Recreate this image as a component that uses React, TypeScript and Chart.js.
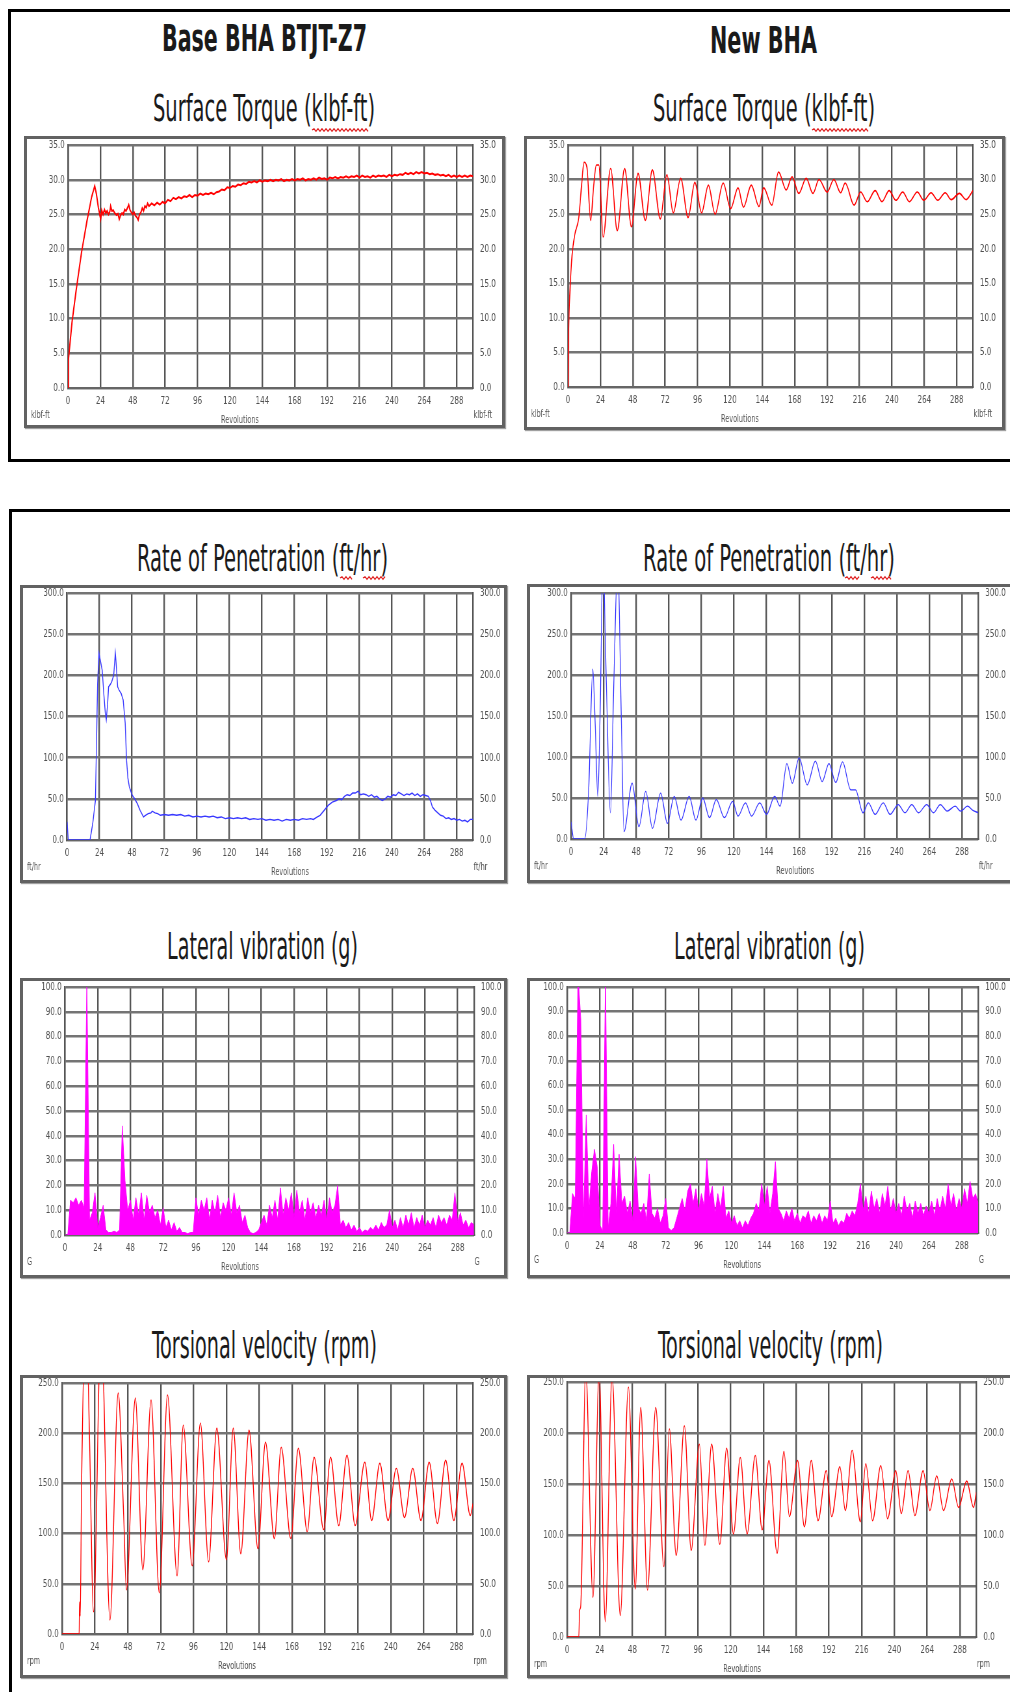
import React, { useEffect, useRef } from 'react';
import { Chart, registerables } from 'chart.js';

Chart.register(...registerables);

// ---------------- data (revolutions, value) ----------------
const TORQUE_BASE: [number, number][] = [
  [0, 0], [0.3, 4], [3, 9.5], [6, 14], [10, 19.5], [14, 24], [17.5, 27.5], [19.8, 29.1], [21, 28], [22.5, 26],
  [24.2, 24.3], [25, 25.6], [26, 25.0], [27, 25.7], [28, 25.2], [29, 25.5], [30, 25.0], [31, 25.4], [31.6, 26.2],
  [32.5, 25.5], [33.5, 25.6], [34.6, 25.2], [36, 24.9], [37, 25.1], [38, 24.3], [39, 24.9], [40, 25.2], [41, 25.0],
  [42, 25.7], [43, 25.5], [44, 25.9], [45, 26.4], [46, 25.6], [47, 25.3], [48, 25.0], [49, 25.3], [50, 24.8],
  [51, 24.6], [52, 24.2], [53, 25.0], [54, 25.3], [55, 25.9], [56, 25.5], [57, 26.2], [58, 26.0], [59, 26.6],
  [60, 26.2], [62, 26.6], [64, 26.3], [66, 26.7], [68, 26.4], [70, 26.8], [72, 26.6], [74, 27.1], [76, 26.9],
  [78, 27.4], [80, 27.2], [82, 27.5], [84, 27.3], [86, 27.6], [88, 27.5], [90, 27.8], [92, 27.5], [94, 27.8],
  [96, 27.7], [98, 28.0], [100, 27.8], [102, 28.0], [104, 27.9], [106, 28.1], [108, 27.9], [110, 28.2], [112, 28.3],
  [114, 28.6], [116, 28.5], [118, 28.9], [120, 28.8], [122, 29.1], [124, 29.0], [126, 29.3], [128, 29.2], [130, 29.5],
  [132, 29.4], [134, 29.7], [136, 29.6], [138, 29.8], [140, 29.6], [142, 29.9], [144, 29.7], [146, 29.9], [148, 29.8],
  [150, 30.0], [152, 29.8], [154, 30.0], [156, 29.9], [158, 30.1], [160, 29.8], [162, 30.0], [164, 29.9], [166, 30.1],
  [168, 29.9], [170, 30.1], [172, 30.0], [174, 30.2], [176, 29.9], [178, 30.1], [180, 30.0], [182, 30.2], [184, 30.0],
  [186, 30.3], [188, 30.1], [190, 30.2], [192, 30.0], [194, 30.3], [196, 30.2], [198, 30.4], [200, 30.2], [202, 30.4],
  [204, 30.3], [206, 30.5], [208, 30.3], [210, 30.5], [212, 30.4], [214, 30.6], [216, 30.3], [218, 30.6], [220, 30.4],
  [222, 30.5], [224, 30.3], [226, 30.6], [228, 30.4], [230, 30.6], [232, 30.5], [234, 30.6], [236, 30.4], [238, 30.7],
  [240, 30.5], [242, 30.7], [244, 30.6], [246, 30.8], [248, 30.7], [250, 31.0], [252, 30.8], [254, 31.0], [256, 30.8],
  [258, 31.1], [260, 30.9], [262, 31.1], [264, 30.9], [266, 31.0], [268, 30.8], [270, 30.9], [272, 30.7], [274, 30.8],
  [276, 30.6], [278, 30.7], [280, 30.5], [282, 30.7], [284, 30.4], [286, 30.6], [288, 30.4], [290, 30.6], [292, 30.4],
  [294, 30.6], [296, 30.4], [298, 30.6], [300, 30.5],
];

const TORQUE_NEW: [number, number][] = [
  [0, 0], [0.5, 8], [1.5, 14], [3, 19], [5, 22], [8, 24.5], [10, 29], [11.9, 32.5], [14, 31.8], [16.8, 24.1],
  [19, 29], [21, 32.1], [22.9, 32.1], [26, 21.7], [31.6, 31.6], [36.5, 22.6], [42, 31.6], [47, 23.2], [51.9, 30.9],
  [57.3, 24.1], [62.5, 31.4], [68.4, 24.3], [73.3, 30.7], [78, 25.2], [83.5, 30.2], [89, 24.5], [94, 29.6], [99, 25.2],
  [104, 29.2], [109, 25.0], [115, 29.5], [120.5, 25.8], [126, 28.8], [130, 26.0], [135.8, 29.2], [141.5, 26.1],
  [145, 28.8], [151, 26.3], [156, 31.1], [161.7, 28.5], [166, 30.4], [171, 28.0], [176.5, 30.2], [181.5, 28.0],
  [186, 30.0], [192, 28.2], [197, 30.0], [202, 28.1], [205.4, 29.5], [212, 26.3], [216.8, 28.2], [221.7, 26.8],
  [227.6, 28.4], [232.6, 26.8], [238, 28.4], [243, 27.0], [248, 28.2], [253, 26.8], [258.8, 28.2], [263.7, 27.0],
  [269, 28.1], [274, 27.0], [279.5, 28.1], [284, 27.1], [290, 28.0], [295, 27.1], [300, 28.4],
];

const ROP_BASE: [number, number][] = [
  [0, 22], [1, 0], [17, 0], [19, 20], [21, 48], [22.6, 190], [23.6, 227], [25, 215], [26, 206], [27.3, 175],
  [28.3, 154], [29, 146], [30, 165], [30.7, 186], [32, 189], [33, 192], [34.5, 200], [35.7, 227], [36.5, 210],
  [37.4, 186], [38.5, 182], [40, 178], [41.5, 170], [43, 142], [44, 97], [45, 75], [46, 65], [47, 60], [48, 55],
  [50, 50], [52, 44], [54, 36], [56.5, 28], [58, 30], [60, 32], [62, 33], [63, 35], [65, 33], [67, 32], [69, 30],
  [72, 31], [75, 30], [78, 31], [81, 30], [84, 31], [87, 29], [90, 30], [93, 28], [96, 29], [99, 28], [102, 29],
  [105, 28], [108, 29], [111, 27], [114, 28], [117, 26], [120, 27], [123, 26], [126, 27], [129, 26], [132, 27],
  [135, 25], [138, 26], [141, 25], [144, 26], [147, 24], [150, 25], [153, 24], [156, 25], [159, 23], [162, 25],
  [165, 24], [168, 25], [171, 24], [174, 26], [177, 25], [180, 26], [182, 25], [185, 28], [187, 30], [190, 36],
  [193, 42], [196, 46], [199, 48], [201, 50], [203, 49], [205, 53], [207, 55], [209, 54], [211, 57], [213, 57],
  [215, 59], [217, 55], [219, 56], [221, 55], [223, 53], [225, 55], [227, 52], [229, 53], [231, 50], [233, 48],
  [235, 50], [237, 53], [239, 52], [241, 55], [243, 54], [245, 58], [247, 56], [249, 54], [251, 56], [253, 55],
  [255, 57], [257, 54], [259, 56], [261, 53], [263, 55], [265, 54], [267, 53], [268.5, 48], [270, 40], [272, 36],
  [274, 33], [276, 30], [278, 29], [280, 26], [282, 27], [284, 25], [286, 26], [288, 24], [290, 25], [292, 23],
  [294, 24], [296, 22], [298, 25], [300, 25],
];

const ROP_NEW: [number, number][] = [
  [0, 21], [2, 0], [10, 0], [13, 60], [16, 207], [17.8, 140], [19.7, 52], [21.5, 160], [23.5, 340], [26, 190],
  [29, 32], [31.5, 190], [34.4, 340], [37, 150], [39, 9], [45, 68], [50, 15], [55, 58], [60, 13], [66, 56], [71, 19],
  [76, 52], [81, 23], [87, 52], [92, 23], [97, 50], [102, 26], [107, 48], [113, 26], [119, 46], [123, 28],
  [128.5, 44], [133, 28], [139, 44], [144, 30], [150, 52], [154, 40], [159, 92], [163, 68], [168, 99], [174, 66],
  [180, 95], [185, 70], [190, 92], [195, 69], [200, 94], [206, 60], [209.6, 60], [215, 32], [219, 44], [224, 30],
  [230, 44], [235, 30], [241, 42], [246, 32], [251, 42], [256, 32], [262, 42], [267, 32], [272, 42], [277, 34],
  [283, 40], [287, 34], [292, 40], [296, 35], [300, 32],
];

// lateral vibration, one value every LAT_STEP revolutions
const LAT_STEP = 2;
const LAT_BASE: number[] = [
  0, 0, 14, 13, 15, 12, 14, 11, 103, 6, 9, 17, 3, 7, 12, 2, 1, 1, 1.5, 1,
  2, 44, 22, 10, 14, 6, 15, 8, 17, 6, 16, 9, 12, 7, 10, 4, 11, 3, 6, 2,
  5, 1.5, 3, 1, 1, 0.5, 1, 1, 15, 8, 14, 10, 15, 6, 14, 9, 16, 7, 13, 10,
  15, 8, 17, 9, 12, 5, 8, 3, 1, 0.5, 1, 2, 5, 8, 4, 12, 7, 14, 6, 19,
  8, 15, 10, 17, 7, 18, 9, 14, 6, 15, 9, 13, 7, 12, 8, 14, 6, 15, 9, 12,
  20, 4, 6, 3, 5, 2, 4, 1.5, 3, 1, 2, 1.5, 3, 2, 4, 2, 5, 3, 4, 10,
  3, 6, 2, 7, 3, 8, 4, 9, 3, 7, 4, 8, 3, 6, 4, 7, 3, 8, 5, 7,
  4, 8, 6, 17, 5, 9, 4, 6, 3, 5, 4,
];
const LAT_NEW: number[] = [
  0, 0, 16, 14, 105, 87, 6, 48, 10, 25, 34, 27, 3, 1, 105, 2, 12, 36, 8, 32,
  12, 15, 8, 13, 5, 31, 10, 8, 12, 5, 24, 8, 6, 10, 4, 7, 14, 2, 1, 2,
  6, 10, 14, 9, 17, 20, 12, 18, 9, 16, 11, 30, 14, 19, 8, 16, 10, 19, 6, 9,
  4, 7, 3, 5, 2, 5, 3, 6, 8, 12, 9, 20, 11, 19, 8, 16, 29, 10, 8, 5,
  9, 6, 10, 5, 8, 4, 7, 6, 9, 4, 7, 5, 8, 4, 7, 5, 13, 4, 6, 3,
  5, 4, 8, 6, 9, 7, 12, 20, 9, 15, 8, 17, 10, 14, 8, 16, 11, 19, 9, 14,
  8, 12, 7, 15, 9, 12, 6, 13, 8, 12, 7, 11, 8, 13, 7, 14, 9, 15, 10, 20,
  11, 16, 9, 14, 10, 18, 12, 21, 14, 16, 12,
];

const TORS_BASE: [number, number][] = [
  [0, 0], [12.5, 0], [12.8, 32], [13.3, 18], [14.3, 150], [17.5, 330], [20, 200], [23, 22], [28.5, 310], [35, 14],
  [41, 240], [45, 118], [47, 44], [53.5, 235], [59, 64], [65, 233], [71, 41], [77, 238], [84, 58], [88.5, 208],
  [95, 68], [101, 210], [107, 72], [113, 205], [120, 74], [125, 205], [130.5, 80], [136.5, 203], [143, 85],
  [148.5, 191], [155, 95], [160, 186], [167, 95], [172.5, 185], [179, 102], [184, 176], [191, 104], [196, 176],
  [202, 108], [208, 178], [214, 108], [221, 171], [226, 113], [232, 170], [238, 113], [244, 165], [250, 116],
  [256, 165], [262, 113], [268, 171], [274, 110], [280, 173], [286, 113], [292, 170], [298, 118], [300, 130],
];

const TORS_NEW: [number, number][] = [
  [0, 0], [8.6, 0], [9.2, 26], [10, 30], [13.7, 262], [19, 39], [23.5, 258], [28, 15], [33, 256], [39, 21],
  [45, 245], [50, 47], [54, 225], [59, 46], [65, 225], [71, 69], [75, 204], [80, 80], [86, 207], [91, 85],
  [97, 189], [101, 90], [106, 189], [112, 91], [117, 185], [122, 101], [127, 176], [132, 101], [138, 178], [143, 105],
  [148, 173], [154, 82], [159, 182], [163, 118], [169, 173], [174, 108], [179, 173], [184, 114], [190, 163], [194, 118],
  [200, 167], [204, 124], [209, 183], [215, 113], [219, 170], [224, 114], [230, 168], [235, 116], [241, 163], [245, 121],
  [250, 163], [255, 119], [261, 163], [266, 124], [271, 158], [276, 124], [282, 155], [287, 127], [293, 153], [298, 127],
  [300, 142],
];

// ---------------- layout / style ----------------
const SQ = 0.65; // horizontal squeeze of the chart canvases
const FONT = "'DejaVu Sans', 'Liberation Sans', sans-serif";
const TITLE_FONT = "'Liberation Sans Narrow', 'DejaVu Sans Condensed', 'DejaVu Sans', sans-serif";

type Spec = {
  frame: number[];
  plot: number[];
  yMax: number;
  yStep: number;
  unit: string;
  revOffset: number;
  points: { x: number; y: number }[];
  color: string;
  lineWidth: number;
  fill: boolean;
  smooth: boolean;
};

const toPts = (a: [number, number][]) => a.map(([x, y]) => ({ x, y }));
const latPts = (a: number[]) => a.map((y, i) => ({ x: i * LAT_STEP, y }));

const PANELS: Spec[] = [
  { frame: [24, 136, 505, 428], plot: [68, 145, 473, 388], yMax: 35, yStep: 5, unit: 'klbf-ft', revOffset: 172, points: toPts(TORQUE_BASE), color: '#ff0000', lineWidth: 2, fill: false, smooth: false },
  { frame: [524, 136, 1005, 430], plot: [568, 145, 973, 387], yMax: 35, yStep: 5, unit: 'klbf-ft', revOffset: 172, points: toPts(TORQUE_NEW), color: '#ff0000', lineWidth: 1.6, fill: false, smooth: true },
  { frame: [20, 585, 507, 883], plot: [67, 593, 473, 840], yMax: 300, yStep: 50, unit: 'ft/hr', revOffset: 223, points: toPts(ROP_BASE), color: '#3838ff', lineWidth: 1.4, fill: false, smooth: false },
  { frame: [527, 584, 1013, 883], plot: [571, 593, 978, 839], yMax: 300, yStep: 50, unit: 'ft/hr', revOffset: 224, points: toPts(ROP_NEW), color: '#3838ff', lineWidth: 1.3, fill: false, smooth: true },
  { frame: [20, 978, 507, 1278], plot: [65, 987, 474, 1235], yMax: 100, yStep: 10, unit: 'G', revOffset: 175, points: latPts(LAT_BASE), color: '#ff00ff', lineWidth: 1, fill: true, smooth: false },
  { frame: [527, 978, 1013, 1278], plot: [567, 987, 978, 1233], yMax: 100, yStep: 10, unit: 'G', revOffset: 175, points: latPts(LAT_NEW), color: '#ff00ff', lineWidth: 1, fill: true, smooth: false },
  { frame: [20, 1375, 507, 1678], plot: [62, 1383, 473, 1634], yMax: 250, yStep: 50, unit: 'rpm', revOffset: 175, points: toPts(TORS_BASE), color: '#ff0000', lineWidth: 1.4, fill: false, smooth: true },
  { frame: [527, 1375, 1013, 1678], plot: [567, 1382, 976, 1637], yMax: 250, yStep: 50, unit: 'rpm', revOffset: 175, points: toPts(TORS_NEW), color: '#ff0000', lineWidth: 1.4, fill: false, smooth: true },
];

const TITLES = [
  { text: 'Base BHA BTJT-Z7', x: 162, y: 51, w: 205, size: 38, bold: true },
  { text: 'New BHA', x: 710, y: 53, w: 107, size: 38, bold: true },
  { text: 'Surface Torque (klbf-ft)', x: 153, y: 121, w: 222, size: 38, bold: false },
  { text: 'Surface Torque (klbf-ft)', x: 653, y: 121, w: 222, size: 38, bold: false },
  { text: 'Rate of Penetration (ft/hr)', x: 137, y: 571, w: 251, size: 38, bold: false },
  { text: 'Rate of Penetration (ft/hr)', x: 643, y: 571, w: 252, size: 38, bold: false },
  { text: 'Lateral vibration (g)', x: 167, y: 959, w: 191, size: 38, bold: false },
  { text: 'Lateral vibration (g)', x: 674, y: 959, w: 191, size: 38, bold: false },
  { text: 'Torsional velocity (rpm)', x: 152, y: 1358, w: 225, size: 38, bold: false },
  { text: 'Torsional velocity (rpm)', x: 658, y: 1358, w: 225, size: 38, bold: false },
];

// spell-check style wavy underlines [x1, x2, y]
const SQUIGGLES = [
  [312, 368, 130], [812, 868, 130],
  [340, 353, 578], [363, 385, 578],
  [845, 860, 578], [871, 892, 578],
];

function wavePath(x1: number, x2: number, y: number) {
  let d = `M${x1} ${y}`;
  let up = true;
  for (let x = x1 + 2; x <= x2; x += 2) {
    d += ` L${x} ${up ? y - 1.3 : y + 1.3}`;
    up = !up;
  }
  return d;
}

function ChartPanel({ s }: { s: Spec }) {
  const ref = useRef<HTMLCanvasElement>(null);
  const B = 3;
  const fx = s.frame[0];
  const fy = s.frame[1];
  const W = s.frame[2] - fx - 2 * B;
  const H = s.frame[3] - fy - 2 * B;
  const IW = Math.round(W / SQ);
  const lInt = (s.plot[0] - fx - B) / SQ;
  const rInt = (s.plot[2] - fx - B) / SQ;
  const t = s.plot[1] - fy - B;
  const b = s.plot[3] - fy - B;

  useEffect(() => {
    const canvas = ref.current;
    if (!canvas) return;
    const labelColor = '#505050';
    const yFont = { family: FONT, size: 11, lineHeight: 1 };
    const xFont = { family: FONT, size: 11, lineHeight: 0.8 };
    const fmt = (v: any) => Number(v).toFixed(1);
    const noPad = (sc: any) => {
      sc.paddingTop = 0;
      sc.paddingBottom = 0;
      sc.paddingLeft = 0;
      sc.paddingRight = 0;
    };
    const unitPlugin = {
      id: 'unitLabels',
      afterDraw(chart: any) {
        const ctx = chart.ctx;
        const ca = chart.chartArea;
        ctx.save();
        ctx.font = `10px ${FONT}`;
        ctx.fillStyle = labelColor;
        ctx.textBaseline = 'middle';
        ctx.textAlign = 'left';
        ctx.fillText(s.unit, 4 / SQ, ca.bottom + 27);
        ctx.fillText(s.unit, ca.right + 1, ca.bottom + 27);
        ctx.textAlign = 'center';
        ctx.fillText('Revolutions', lInt + s.revOffset / SQ, ca.bottom + 32);
        ctx.restore();
      },
    };
    const yCommon = {
      type: 'linear' as const,
      min: 0,
      max: s.yMax,
      ticks: { stepSize: s.yStep, callback: fmt, font: yFont, color: labelColor, padding: 5 },
      border: { display: true, color: '#555', width: 2.4 },
    };
    const chart = new Chart(canvas, {
      type: 'line',
      data: {
        datasets: [
          {
            data: s.points,
            borderColor: s.color,
            backgroundColor: s.color,
            borderWidth: s.lineWidth,
            pointRadius: 0,
            fill: s.fill ? 'origin' : false,
            tension: 0,
            cubicInterpolationMode: s.smooth ? 'monotone' : 'default',
            clip: 0,
          } as any,
        ],
      },
      options: {
        responsive: false,
        animation: false,
        devicePixelRatio: 1,
        events: [],
        layout: { padding: { left: 0, right: 0, top: t, bottom: 0 } },
        plugins: { legend: { display: false }, tooltip: { enabled: false } },
        scales: {
          x: {
            type: 'linear',
            min: 0,
            max: 300,
            ticks: { stepSize: 24, font: xFont, color: labelColor, padding: 9, maxRotation: 0, autoSkip: false },
            afterBuildTicks: (sc: any) => {
              sc.ticks = sc.ticks.filter((tk: any) => tk.value % 24 === 0);
            },
            afterFit: (sc: any) => {
              sc.height = H - b;
              noPad(sc);
            },
            grid: { color: '#555', lineWidth: 2.4, drawTicks: false },
            border: { display: true, color: '#666', width: 2 },
          },
          y: {
            ...yCommon,
            position: 'left',
            afterFit: (sc: any) => {
              sc.width = lInt;
              noPad(sc);
            },
            grid: { color: '#747474', lineWidth: 2.4, drawTicks: false },
          },
          y2: {
            ...yCommon,
            position: 'right',
            ticks: { ...yCommon.ticks, padding: 7 / SQ },
            afterFit: (sc: any) => {
              sc.width = IW - rInt;
              noPad(sc);
            },
            grid: { display: false, drawTicks: false },
          },
        },
      } as any,
      plugins: [unitPlugin],
    });
    return () => chart.destroy();
  }, []);

  return (
    <div
      style={{
        position: 'absolute',
        left: fx,
        top: fy,
        width: s.frame[2] - fx,
        height: s.frame[3] - fy,
        boxSizing: 'border-box',
        border: '3px solid #626262',
        background: '#fff',
        boxShadow: '1px 1px 1px #a0a0a0',
      }}
    >
      <canvas ref={ref} width={IW} height={H} style={{ display: 'block', width: W, height: H }} />
    </div>
  );
}

export default function App() {
  return (
    <div
      style={{
        position: 'absolute',
        left: 0,
        top: 0,
        width: 1010,
        height: 1692,
        overflow: 'hidden',
        background: '#fff',
      }}
    >
      <div style={{ position: 'absolute', left: 8, top: 9, width: 1020, height: 453, boxSizing: 'border-box', border: '3px solid #000' }} />
      <div style={{ position: 'absolute', left: 9, top: 509, width: 1020, height: 1200, boxSizing: 'border-box', border: '3px solid #000' }} />
      <svg width={1010} height={1692} style={{ position: 'absolute', left: 0, top: 0 }}>
        {TITLES.map((tt, i) => (
          <text
            key={i}
            x={tt.x}
            y={tt.y}
            textLength={tt.w}
            lengthAdjust="spacingAndGlyphs"
            fontFamily={TITLE_FONT}
            fontSize={tt.size}
            fontWeight={tt.bold ? 700 : 400}
            fill="#1a1a1a"
          >
            {tt.text}
          </text>
        ))}
        {SQUIGGLES.map((q, i) => (
          <path key={i} d={wavePath(q[0], q[1], q[2])} stroke="#e02020" strokeWidth={1.2} fill="none" />
        ))}
      </svg>
      {PANELS.map((p, i) => (
        <ChartPanel key={i} s={p} />
      ))}
    </div>
  );
}
